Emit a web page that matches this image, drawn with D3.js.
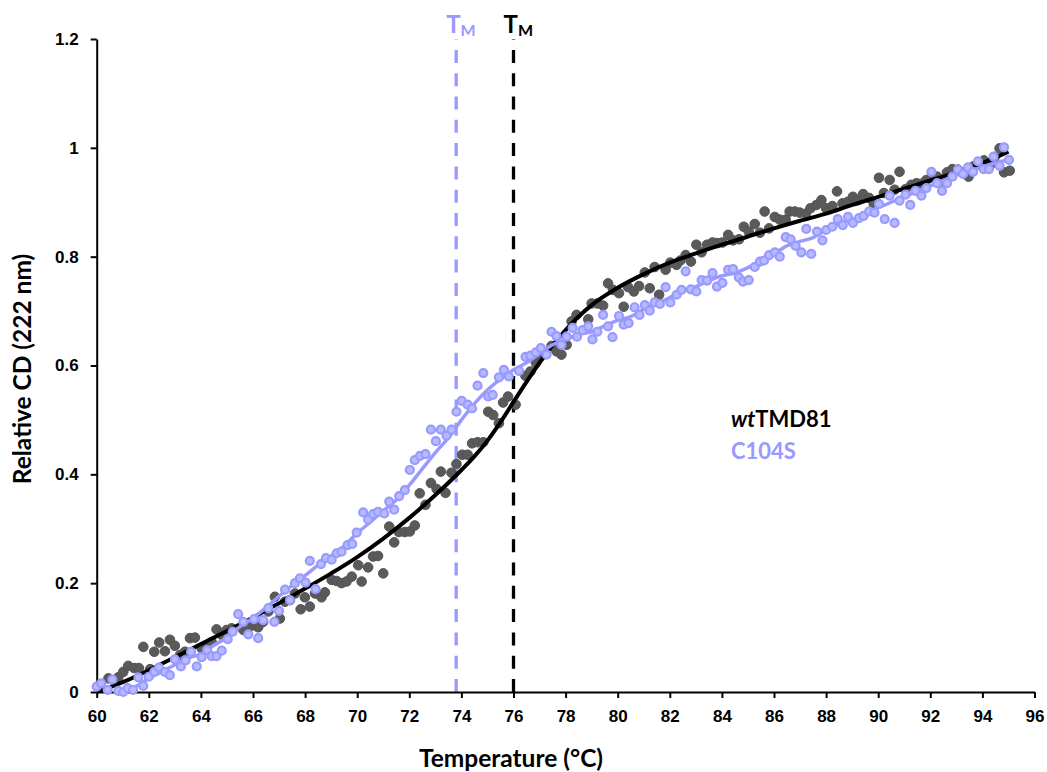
<!DOCTYPE html>
<html>
<head>
<meta charset="utf-8">
<script src="https://cdn.jsdelivr.net/npm/d3@7"></script>
<style>
    body { margin: 0; background: #fff; }
    svg { display: block; font-family: Lato, "Open Sans", sans-serif; }
    .axis path, .axis line { stroke: #000; stroke-width: 2; }
    .axis text { font-size: 17px; font-weight: bold; fill: #000; }
</style>
</head>
<body>
<div id="chart"></div>
<script>
// x ticks / y ticks
var xTicks = [60, 62, 64, 66, 68, 70, 72, 74, 76, 78, 80, 82, 84, 86, 88, 90, 92, 94, 96];
var yTicks = [0, 0.2, 0.4, 0.6, 0.8, 1, 1.2];

// melting temperatures
var tmWt = 76.0;
var tmC104S = 73.8;

// wtTMD81 measured points [temperature, relative CD]
var wtPoints = [
    [60.13, 0.01], [60.45, 0.025], [60.83, 0.027], [61.02, 0.037], [61.21, 0.048], [61.44, 0.044],
    [61.62, 0.044], [61.79, 0.083], [62.05, 0.042], [62.21, 0.074], [62.4, 0.091], [62.62, 0.075],
    [62.81, 0.096], [63.0, 0.085], [63.2, 0.068], [63.39, 0.074], [63.58, 0.099], [63.77, 0.1],
    [64.03, 0.08], [64.22, 0.086], [64.41, 0.092], [64.6, 0.115], [64.8, 0.105], [64.99, 0.114],
    [65.18, 0.117], [65.63, 0.114], [65.82, 0.117], [66.01, 0.123], [66.2, 0.119], [66.39, 0.129],
    [66.59, 0.148], [66.84, 0.175], [67.03, 0.135], [67.23, 0.166], [67.42, 0.169], [67.61, 0.181],
    [67.83, 0.152], [67.99, 0.174], [68.18, 0.157], [68.38, 0.181], [68.63, 0.174], [68.76, 0.183],
    [69.02, 0.206], [69.21, 0.204], [69.4, 0.2], [69.59, 0.203], [69.79, 0.212], [70.04, 0.233],
    [70.17, 0.203], [70.42, 0.229], [70.61, 0.249], [70.8, 0.25], [71.0, 0.218], [71.23, 0.304],
    [71.42, 0.275], [71.6, 0.294], [71.83, 0.294], [72.02, 0.295], [72.21, 0.306], [72.4, 0.365],
    [72.62, 0.344], [72.83, 0.384], [73.05, 0.373], [73.21, 0.405], [73.39, 0.366], [73.62, 0.403],
    [73.81, 0.419], [74.03, 0.436], [74.24, 0.436], [74.41, 0.457], [74.62, 0.459], [74.84, 0.459],
    [75.03, 0.515], [75.22, 0.509], [75.44, 0.494], [75.6, 0.532], [75.79, 0.543], [76.08, 0.528],
    [76.46, 0.581], [76.65, 0.589], [76.86, 0.605], [77.05, 0.617], [77.46, 0.636], [77.65, 0.626],
    [77.84, 0.62], [78.04, 0.638], [78.23, 0.681], [78.42, 0.693], [78.87, 0.685], [79.0, 0.714],
    [79.22, 0.714], [79.44, 0.71], [79.63, 0.751], [79.82, 0.739], [80.05, 0.733], [80.23, 0.708],
    [80.4, 0.744], [80.62, 0.736], [80.82, 0.746], [81.04, 0.771], [81.23, 0.742], [81.42, 0.781],
    [81.59, 0.73], [81.84, 0.776], [82.02, 0.789], [82.26, 0.785], [82.41, 0.793], [82.61, 0.803],
    [82.81, 0.791], [83.02, 0.822], [83.22, 0.808], [83.43, 0.822], [83.64, 0.826], [83.83, 0.825],
    [84.02, 0.826], [84.24, 0.84], [84.43, 0.83], [84.66, 0.832], [84.84, 0.855], [85.03, 0.846],
    [85.26, 0.86], [85.46, 0.844], [85.64, 0.883], [85.81, 0.852], [86.03, 0.873], [86.22, 0.868],
    [86.45, 0.868], [86.6, 0.883], [86.8, 0.883], [86.99, 0.881], [87.22, 0.879], [87.4, 0.889],
    [87.63, 0.895], [87.82, 0.904], [88.0, 0.889], [88.24, 0.893], [88.42, 0.92], [88.63, 0.898],
    [88.84, 0.901], [89.03, 0.91], [89.22, 0.904], [89.42, 0.915], [89.65, 0.908], [89.83, 0.897],
    [90.03, 0.945], [90.22, 0.917], [90.44, 0.941], [90.63, 0.923], [90.82, 0.956], [91.05, 0.924],
    [91.27, 0.932], [91.47, 0.935], [91.66, 0.934], [91.85, 0.941], [92.04, 0.946], [92.26, 0.947],
    [92.42, 0.935], [92.64, 0.955], [92.85, 0.961], [93.06, 0.96], [93.26, 0.955], [93.47, 0.947],
    [93.66, 0.966], [93.87, 0.972], [94.06, 0.977], [94.28, 0.967], [94.47, 0.983], [94.66, 0.999],
    [94.83, 0.955], [95.05, 0.958]
];

// C104S measured points [temperature, relative CD]
var c104sPoints = [
    [60.0, 0.01], [60.17, 0.016], [60.42, 0.004], [60.6, 0.023], [60.83, 0.002], [61.02, 0.0],
    [61.19, 0.007], [61.4, 0.004], [61.6, 0.027], [61.79, 0.011], [62.0, 0.028], [62.21, 0.037],
    [62.39, 0.045], [62.62, 0.037], [62.81, 0.031], [63.0, 0.06], [63.23, 0.047], [63.41, 0.058],
    [63.62, 0.074], [63.84, 0.047], [64.03, 0.064], [64.24, 0.077], [64.41, 0.066], [64.6, 0.066],
    [64.8, 0.076], [65.03, 0.097], [65.22, 0.111], [65.43, 0.143], [65.63, 0.129], [65.82, 0.106],
    [66.04, 0.134], [66.2, 0.099], [66.39, 0.132], [66.59, 0.154], [66.82, 0.129], [67.0, 0.149],
    [67.23, 0.188], [67.42, 0.169], [67.61, 0.2], [67.8, 0.209], [68.02, 0.201], [68.18, 0.241],
    [68.4, 0.189], [68.61, 0.235], [68.8, 0.246], [69.02, 0.243], [69.21, 0.255], [69.4, 0.258],
    [69.63, 0.27], [69.81, 0.272], [69.98, 0.293], [70.23, 0.33], [70.42, 0.317], [70.61, 0.327],
    [70.8, 0.331], [71.04, 0.328], [71.23, 0.35], [71.42, 0.335], [71.61, 0.36], [71.83, 0.371],
    [72.02, 0.408], [72.21, 0.426], [72.41, 0.434], [72.62, 0.437], [72.83, 0.482], [73.02, 0.461],
    [73.21, 0.482], [73.43, 0.471], [73.62, 0.482], [73.81, 0.515], [74.01, 0.535], [74.24, 0.528],
    [74.41, 0.521], [74.62, 0.563], [74.84, 0.586], [75.03, 0.543], [75.2, 0.546], [75.44, 0.578],
    [75.63, 0.592], [75.82, 0.58], [76.21, 0.59], [76.46, 0.616], [76.65, 0.618], [76.86, 0.624],
    [77.05, 0.632], [77.27, 0.62], [77.46, 0.662], [77.65, 0.654], [77.84, 0.638], [78.04, 0.653],
    [78.27, 0.669], [78.44, 0.653], [78.65, 0.665], [78.87, 0.672], [79.03, 0.648], [79.22, 0.662],
    [79.44, 0.693], [79.63, 0.672], [79.8, 0.652], [80.05, 0.691], [80.23, 0.675], [80.42, 0.678],
    [80.65, 0.707], [80.84, 0.693], [81.04, 0.711], [81.23, 0.701], [81.42, 0.716], [81.62, 0.713],
    [81.84, 0.744], [82.02, 0.716], [82.26, 0.73], [82.45, 0.739], [82.61, 0.773], [82.81, 0.74],
    [83.02, 0.736], [83.22, 0.757], [83.43, 0.756], [83.64, 0.77], [83.81, 0.745], [84.02, 0.752],
    [84.24, 0.776], [84.43, 0.777], [84.65, 0.762], [84.81, 0.754], [85.03, 0.757], [85.26, 0.781],
    [85.46, 0.791], [85.62, 0.793], [85.81, 0.803], [86.03, 0.808], [86.22, 0.8], [86.45, 0.836],
    [86.64, 0.832], [86.83, 0.82], [87.05, 0.808], [87.24, 0.851], [87.43, 0.805], [87.65, 0.846],
    [87.86, 0.83], [88.0, 0.849], [88.24, 0.855], [88.45, 0.869], [88.64, 0.858], [88.84, 0.873],
    [89.03, 0.862], [89.26, 0.871], [89.44, 0.875], [89.65, 0.883], [89.86, 0.881], [90.03, 0.897],
    [90.25, 0.869], [90.44, 0.912], [90.63, 0.862], [90.82, 0.903], [91.05, 0.914], [91.23, 0.895],
    [91.43, 0.921], [91.66, 0.912], [91.85, 0.926], [92.04, 0.956], [92.26, 0.935], [92.45, 0.921],
    [92.64, 0.935], [92.85, 0.947], [93.06, 0.96], [93.26, 0.952], [93.45, 0.964], [93.64, 0.956],
    [93.83, 0.975], [94.05, 0.961], [94.25, 0.961], [94.43, 0.984], [94.66, 0.967], [94.83, 1.001],
    [95.02, 0.978]
];

// wtTMD81 fitted curve
var wtFit = [
    [60.0, 0.0], [61, 0.018], [62, 0.04], [63, 0.064], [64, 0.088], [65, 0.112], [66, 0.137],
    [67, 0.163], [68, 0.19], [69, 0.218], [70, 0.248], [71, 0.282], [72, 0.32], [73, 0.362],
    [74, 0.408], [74.5, 0.433], [75, 0.462], [75.5, 0.496], [76, 0.533], [76.5, 0.57], [77, 0.605],
    [77.5, 0.637], [78, 0.665], [78.5, 0.69], [79, 0.711], [80, 0.743], [81, 0.768], [82, 0.789],
    [83, 0.806], [84, 0.822], [85, 0.837], [86, 0.852], [87, 0.866], [88, 0.879], [89, 0.895],
    [90, 0.91], [91, 0.925], [92, 0.94], [93, 0.955], [94, 0.972], [95, 0.993]
];

// C104S smoothed trend
var c104sFit = [
    [61.0, 0.0], [61.5, 0.01], [62, 0.025], [62.5, 0.037], [63, 0.05], [63.5, 0.062], [64, 0.07],
    [64.5, 0.086], [65, 0.1], [65.5, 0.12], [66, 0.136], [66.5, 0.155], [67, 0.176], [67.5, 0.196],
    [68, 0.214], [68.5, 0.233], [69, 0.25], [69.5, 0.268], [70, 0.292], [70.5, 0.312],
    [71, 0.333], [71.5, 0.353], [72, 0.38], [72.5, 0.41], [73, 0.44], [73.5, 0.467], [74, 0.5],
    [74.5, 0.53], [75, 0.555], [75.5, 0.575], [76, 0.592], [76.5, 0.605], [77, 0.622],
    [77.5, 0.638], [78, 0.648], [78.5, 0.657], [79, 0.662], [79.5, 0.673], [80, 0.683],
    [80.5, 0.69], [81, 0.703], [81.5, 0.713], [82, 0.725], [82.5, 0.737], [83, 0.745],
    [83.5, 0.756], [84, 0.765], [84.5, 0.77], [85, 0.78], [85.5, 0.793], [86, 0.805], [86.5, 0.82],
    [87, 0.828], [87.5, 0.835], [88, 0.849], [88.5, 0.86], [89, 0.868], [89.5, 0.878], [90, 0.89],
    [90.5, 0.9], [91, 0.91], [91.5, 0.92], [92, 0.93], [92.5, 0.94], [93, 0.95], [93.5, 0.957],
    [94, 0.965], [94.5, 0.972], [95, 0.978]
];

var lavender = "#9999ff";
var grey = "#5a5a5a";

var W = 1047, H = 772;
var margin = { top: 39, right: 12.5, bottom: 80, left: 96.7 };

var svg = d3.select("#chart").append("svg")
    .attr("width", W)
    .attr("height", H);

var x = d3.scaleLinear().domain([60, 96]).range([margin.left, W - margin.right]);
var y = d3.scaleLinear().domain([0, 1.2]).range([H - margin.bottom, margin.top]);

// Tm markers, drawn bottom to top so the dashes start at the axis
function tmLine(t, colour) {
    svg.append("line")
        .attr("x1", x(t)).attr("x2", x(t))
        .attr("y1", y(0)).attr("y2", y(1.2))
        .attr("stroke", colour)
        .attr("stroke-width", 3.3)
        .attr("stroke-dasharray", "13,10.3");
}
tmLine(tmC104S, lavender);
tmLine(tmWt, "#000");

function tmLabel(t, colour, dx) {
    var lbl = svg.append("text")
        .attr("x", x(t) + dx)
        .attr("y", 33)
        .attr("fill", colour)
        .style("font-weight", "bold")
        .style("font-size", "24px");
    lbl.append("tspan").text("T");
    lbl.append("tspan").attr("dy", 3).style("font-size", "16px").text("M");
}
tmLabel(tmC104S, lavender, -10);
tmLabel(tmWt, "#000", -10);

// axes
svg.append("g")
    .attr("class", "axis axis--x")
    .attr("transform", "translate(0," + y(0) + ")")
    .call(d3.axisBottom(x).tickValues(xTicks).tickSize(6).tickSizeOuter(0).tickPadding(12).tickFormat(d3.format("d")));

svg.append("g")
    .attr("class", "axis axis--y")
    .attr("transform", "translate(" + x(60) + ",0)")
    .call(d3.axisLeft(y).tickValues(yTicks).tickSize(6).tickSizeOuter(0).tickPadding(12).tickFormat(function(d) { return String(d); }));

var line = d3.line()
    .curve(d3.curveMonotoneX)
    .x(function(d) { return x(d[0]); })
    .y(function(d) { return y(d[1]); });

// wt points, then wt fit
svg.append("g").selectAll("circle")
    .data(wtPoints)
    .enter().append("circle")
    .attr("cx", function(d) { return x(d[0]); })
    .attr("cy", function(d) { return y(d[1]); })
    .attr("r", 4.8)
    .attr("fill", grey)
    .attr("stroke", "#545454")
    .attr("stroke-width", 1);

svg.append("path")
    .datum(wtFit)
    .attr("fill", "none")
    .attr("stroke", "#000")
    .attr("stroke-width", 4)
    .attr("stroke-linejoin", "round")
    .attr("d", line);

svg.append("path")
    .datum(c104sFit)
    .attr("fill", "none")
    .attr("stroke", lavender)
    .attr("stroke-width", 3.5)
    .attr("stroke-linejoin", "round")
    .attr("d", line);

svg.append("g").selectAll("circle")
    .data(c104sPoints)
    .enter().append("circle")
    .attr("cx", function(d) { return x(d[0]); })
    .attr("cy", function(d) { return y(d[1]); })
    .attr("r", 4)
    .attr("fill", "#b4bbff")
    .attr("stroke", lavender)
    .attr("stroke-width", 2.2);

// axis titles
svg.append("text")
    .attr("transform", "translate(31,369) rotate(-90)")
    .style("text-anchor", "middle")
    .style("font-weight", "bold")
    .style("font-size", "24.5px")
    .text("Relative CD (222 nm)");

svg.append("text")
    .attr("x", 511)
    .attr("y", 767)
    .style("text-anchor", "middle")
    .style("font-weight", "bold")
    .style("font-size", "24.5px")
    .text("Temperature (°C)");

// legend
var leg1 = svg.append("text")
    .attr("x", 731)
    .attr("y", 427)
    .style("font-weight", "bold")
    .style("font-size", "22px");
leg1.append("tspan").style("font-style", "italic").text("wt");
leg1.append("tspan").text("TMD81");

svg.append("text")
    .attr("x", 731)
    .attr("y", 459)
    .attr("fill", lavender)
    .style("font-weight", "bold")
    .style("font-size", "22px")
    .text("C104S");
</script>
</body>
</html>
